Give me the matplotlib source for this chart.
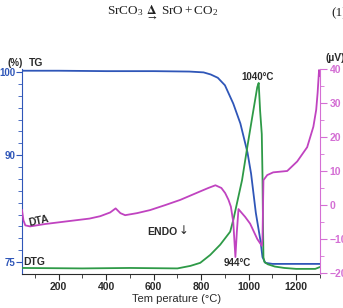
import numpy as np
import matplotlib
matplotlib.use("Agg")
import matplotlib.pyplot as plt

plt.rcParams['font.family'] = 'Liberation Sans'
plt.rcParams['font.weight'] = 'bold'
plt.rcParams['mathtext.fontset'] = 'stix'

# TG curve (mass %, left axis)
tg_T = [46, 200, 400, 600, 750, 810, 840, 870, 900, 935, 965, 995, 1010, 1030,
        1050, 1058, 1070, 1100, 1200, 1300]
tg_val = [100.15, 100.15, 100.1, 100.1, 100.05, 99.95, 99.7, 99.3, 98.4, 96.2,
          93.8, 90.3, 87.4, 81.9, 77.9, 75.7, 74.9, 74.75, 74.75, 74.75]

# DTG curve (%/min, no axis shown)
dtg_T = [46, 300, 500, 700, 730, 755, 796, 838, 880, 922, 935, 972, 994, 1015,
         1036, 1042, 1048, 1055, 1058, 1060, 1062, 1066, 1080, 1110, 1150, 1200,
         1280, 1300]
dtg_val = [0.02, 0.01, 0.02, 0.01, 0.04, 0.065, 0.13, 0.30, 0.52, 0.80, 1.05,
           1.91, 2.62, 3.27, 3.91, 4.0, 3.4, 2.9, 2.0, 1.0, 0.25, 0.15, 0.10,
           0.05, 0.02, 0.0, 0.0, 0.04]

# DTA curve (µV, right axis)
dta_T = [46, 52, 60, 80, 143, 236, 330, 375, 417, 440, 460, 480, 530, 585, 650,
         712, 796, 830, 860, 885, 901, 915, 925, 935, 944, 950, 957, 964, 985,
         1006, 1036, 1055, 1058, 1062, 1078, 1103, 1162, 1204, 1246, 1272, 1284,
         1290, 1296, 1300]
dta_val = [-1.5, -4.5, -6.0, -6.3, -5.6, -4.8, -4.0, -3.3, -2.2, -1.0, -2.4,
           -3.0, -2.4, -1.5, 0.0, 1.5, 4.0, 5.0, 5.8, 5.0, 3.5, 1.5, -0.5, -5.0,
           -15.3, -8.0, -1.2, -1.8, -3.5, -5.5, -10.0, -12.0, -10.0, 7.3, 8.8,
           9.6, 10.0, 12.8, 17.0, 23.0, 28.0, 33.0, 39.7, 38.0]

blue = '#2f56b8'
green = '#2e9a47'
magenta = '#c043c0'
pink = '#d46fd4'
dark = '#2a2a2a'


# the TG axis in the original is not linear: 100-90 is shorter than 90-75
def fwd(v):
    v = np.asarray(v, dtype=float)
    return np.where(v <= 90, (v - 75) * 9 / 15, 9 + (v - 90) * 7 / 10)


def inv(u):
    u = np.asarray(u, dtype=float)
    return np.where(u <= 9, 75 + u * 15 / 9, 90 + (u - 9) * 10 / 7)


fig = plt.figure(figsize=(3.43, 3.08), dpi=100)
ax = fig.add_axes([22 / 343, 1 - 274 / 308, 298 / 343, 205 / 308])
ax3 = ax.twinx()
ax2 = ax.twinx()

ax.plot(tg_T, tg_val, color=blue, lw=1.3)
ax3.plot(dtg_T, dtg_val, color=green, lw=1.3)
ax2.plot(dta_T, dta_val, color=magenta, lw=1.3)

ax.set_xlim(46, 1300)
ax.set_yscale('function', functions=(fwd, inv))
ax.set_ylim(float(inv(-1)), float(inv(16.25)))
ax.set_yticks([75, 90, 100])
ax.set_yticks([float(inv(u)) for u in range(17) if u not in (0, 9, 16)], minor=True)
ax.set_xticks([200, 400, 600, 800, 1000, 1200])
ax.set_xticks([100, 300, 500, 700, 900, 1100, 1300], minor=True)

ax2.set_ylim(-20.3, 40)
ax2.set_yticks([-20, -10, 0, 10, 20, 30, 40])
ax2.set_yticks(np.arange(-15, 40, 10), minor=True)
ax3.set_ylim(-0.11, 4.3)
ax3.set_axis_off()

for a in (ax, ax2):
    a.spines['top'].set_visible(False)
ax.spines['right'].set_visible(False)
ax2.spines['left'].set_visible(False)
ax2.spines['bottom'].set_visible(False)
ax.spines['left'].set_color(blue)
ax.spines['bottom'].set_color(dark)
ax2.spines['right'].set_color(pink)

ax.tick_params(axis='x', which='both', direction='out', colors=dark, labelsize=7.5, pad=2)
ax.tick_params(axis='x', which='major', length=4)
ax.tick_params(axis='x', which='minor', length=3)
ax.tick_params(axis='y', which='both', direction='out', colors=blue, labelsize=7, pad=0.5)
ax.tick_params(axis='y', which='major', length=4)
ax.tick_params(axis='y', which='minor', length=3)
ax2.tick_params(axis='y', which='both', direction='out', colors=pink, labelsize=7.5, pad=2)
ax2.tick_params(axis='y', which='major', length=5)
ax2.tick_params(axis='y', which='minor', length=3)
ax.yaxis.set_major_formatter(matplotlib.ticker.FormatStrFormatter('%d'))
ax.yaxis.set_minor_formatter(matplotlib.ticker.NullFormatter())

ax.set_xlabel('Tem perature (°C)', fontsize=8, color=dark, labelpad=1)
ax.xaxis.set_label_coords(0.52, -0.1)

fig.text(163 / 343, 1 - 13 / 308,
         r'$\mathregular{SrCO_3}\ \underset{\rightarrow}{\Delta}\ \mathregular{SrO + CO_2}$',
         fontsize=9.5, weight='normal', family='Liberation Serif',
         ha='center', va='center', color='#222')
fig.text(331 / 343, 1 - 13 / 308, '(1)', family='Liberation Serif', weight='normal',
         fontsize=9.5, ha='left', va='center', color='#222')

fig.text(15 / 343, 1 - 63 / 308, '(%)', fontsize=7, ha='center', va='center', color=dark)
fig.text(29 / 343, 1 - 63 / 308, 'TG', fontsize=7.5, ha='left', va='center', color=dark)
fig.text(335 / 343, 1 - 58 / 308, '(µV)', fontsize=7.5, ha='center', va='center', color=dark)
fig.text(258 / 343, 1 - 77 / 308, '1040°C', fontsize=7, ha='center', va='center', color=dark)
fig.text(237 / 343, 1 - 263 / 308, '944°C', fontsize=7, ha='center', va='center', color=dark)
fig.text(162 / 343, 1 - 232 / 308, 'ENDO', fontsize=7.5, ha='center', va='center', color=dark)
fig.text(184 / 343, 1 - 231 / 308, '↓', fontsize=8.5, ha='center', va='center', color=dark,
         family='DejaVu Sans', weight='normal')
fig.text(39 / 343, 1 - 221 / 308, 'DTA', fontsize=7.5, ha='center', va='center', color=dark,
         rotation=12)
fig.text(34.5 / 343, 1 - 262 / 308, 'DTG', fontsize=7.5, ha='center', va='center', color=dark)

fig.savefig('out.png', dpi=100)
